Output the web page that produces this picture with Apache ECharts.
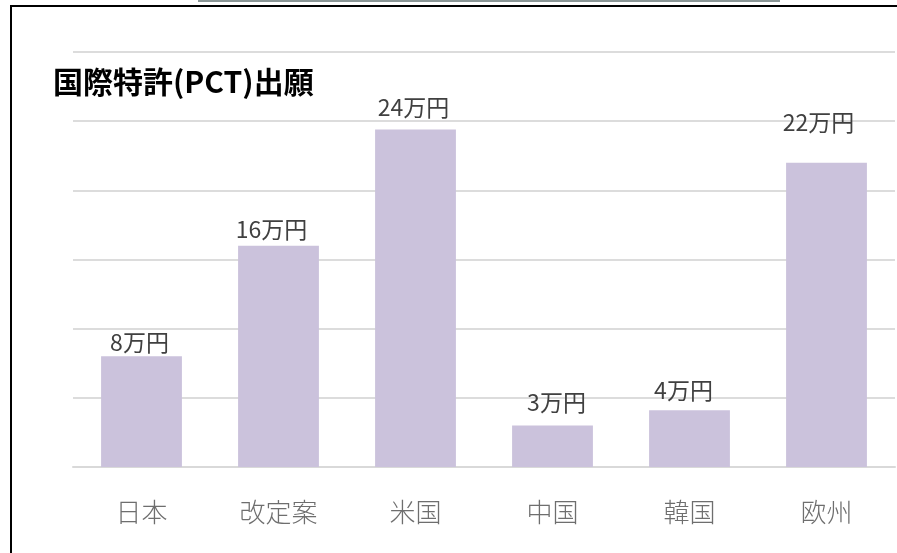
<!DOCTYPE html>
<html>
<head>
<meta charset="utf-8">
<script src="https://cdn.jsdelivr.net/npm/echarts@6/dist/echarts.min.js"></script>
<style>
html,body{margin:0;padding:0;background:#fff;}
#chart{width:897px;height:553px;}
</style>
</head>
<body>
<div id="chart"></div>
<script>
// ---- data ----
const titleText = '国際特許(PCT)出願';
const categories = ['日本', '改定案', '米国', '中国', '韓国', '欧州'];
const values = [8, 16, 24.4, 3, 4.1, 22];
const unit = '万円';
const yTicks = [0, 5, 10, 15, 20, 25, 30];

// ---- label nudges (layout only) ----
const labelNudge = [[-2, 0], [-7, -2], [-2, -8], [4, -9], [-6, -6], [-8, -26]];

const FONT = '"Noto Sans CJK JP", "Noto Sans", sans-serif';
const chart = echarts.init(document.getElementById('chart'), null, {renderer: 'canvas'});

const option = {
  backgroundColor: '#ffffff',
  animation: false,
  title: {
    text: titleText,
    left: 48,
    top: 62,
    textStyle: {fontFamily: FONT, fontSize: 30, fontWeight: 'bold', color: '#000000'}
  },
  grid: {left: 73, right: 2, top: 52, bottom: 86, containLabel: false},
  xAxis: {
    type: 'category',
    data: categories,
    axisLine: {show: true, lineStyle: {color: '#d9d9d9', width: 2}},
    axisTick: {show: false},
    axisLabel: {fontFamily: FONT, fontSize: 26, color: '#6e6e6e', margin: 32, fontWeight: 300}
  },
  yAxis: {
    type: 'value',
    min: yTicks[0],
    max: yTicks[yTicks.length - 1],
    interval: yTicks[1] - yTicks[0],
    axisLine: {show: false},
    axisTick: {show: false},
    axisLabel: {show: false},
    splitLine: {show: true, lineStyle: {color: '#dcdcdc', width: 2}}
  },
  series: [{
    type: 'bar',
    barCategoryGap: '41%',
    itemStyle: {color: '#cbc2dc'},
    data: values.map((v, i) => ({
      value: v,
      label: {offset: labelNudge[i]}
    })),
    label: {
      show: true,
      position: 'top',
      distance: 3,
      formatter: p => Math.round(p.value) + unit,
      fontFamily: FONT,
      fontSize: 23,
      color: '#404040'
    }
  }],
  graphic: [
    {type: 'rect', shape: {x: 198, y: 0, width: 582, height: 2}, style: {fill: '#8a9696'}, z: 100},
    {type: 'rect', shape: {x: 11, y: 6, width: 900, height: 600}, style: {fill: 'none', stroke: '#000000', lineWidth: 2}, z: 100}
  ]
};
chart.setOption(option);
</script>
</body>
</html>
